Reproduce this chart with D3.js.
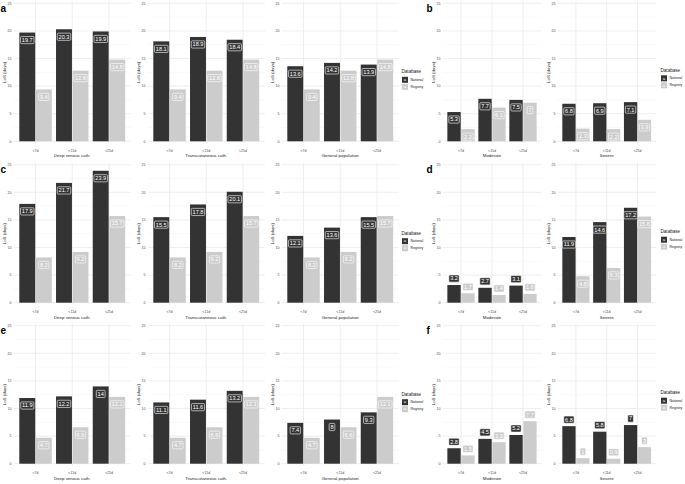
<!DOCTYPE html>
<html>
<head>
<meta charset="utf-8">
<script src="https://cdn.jsdelivr.net/npm/d3@7"></script>
<style>
  body { margin: 0; background: #fff; }
  svg { display: block; font-family: "Liberation Sans", Arial, sans-serif; }
</style>
</head>
<body>
<svg id="chart" width="685" height="484"></svg>
<script>
'use strict';

// Catégories et séries
const ageCats = ["<7d", "<11d", "<25d"];
const seriesNames = ["National", "Registry"];
const catheterFacets = ["Deep venous cath.", "Transcutaneous cath.", "General population"];
const severityFacets = ["Moderate", "Severe"];

// Panneau a
const aNational = [[19.7, 20.3, 19.9], [18.1, 18.9, 18.4], [13.6, 14.2, 13.9]];
const aRegistry = [9.4, 12.8, 14.8];
// Panneau b
const bNational = [[5.3, 7.7, 7.5], [6.8, 6.9, 7.1]];
const bRegistry = [[2.2, 6.1, 7], [2.3, 2.2, 3.9]];
// Panneau c
const cNational = [[17.9, 21.7, 23.9], [15.5, 17.8, 20.1], [12.1, 13.6, 15.5]];
const cRegistry = [8.2, 9.2, 15.7];
// Panneau d
const dNational = [[3.2, 2.7, 3.1], [11.9, 14.6, 17.2]];
const dRegistry = [[1.7, 1.4, 1.6], [4.8, 6.3, 15.6]];
// Panneau e
const eNational = [[11.9, 12.2, 14], [11.1, 11.6, 13.2], [7.4, 8, 9.3]];
const eRegistry = [4.7, 6.6, 12.1];
// Panneau f
const fNational = [[2.8, 4.5, 5.2], [6.8, 5.8, 7]];
const fRegistry = [[1.5, 3.9, 7.7], [1, 0.9, 3]];

const yTicks = [0, 5, 10, 15, 20, 25];
const panelLetters = ["a", "b", "c", "d", "e", "f"];

const couleurs = d3.scaleOrdinal().domain(seriesNames).range(["#333333", "#cccccc"]);
const svg = d3.select("#chart");

const rowTops = [3.3, 164.7, 325.7];
const hauteurPlot = 138;

/**
 * Dessiner un graphique (une facette) avec ses barres et étiquettes
 */
function dessinerPlot(x0, x1, top, titre, national, registry, placeLabel) {
    const g = svg.append("g");
    const x = d3.scalePoint().domain(ageCats).range([x0, x1]).padding(0.6);
    const y = d3.scaleLinear().domain([0, 25]).range([top + hauteurPlot, top]);
    const step = x.step();
    const bw = step * 0.45;

    // grille mineure
    d3.range(2.5, 25, 5).forEach(v => {
        g.append("line").attr("x1", x0).attr("x2", x1)
            .attr("y1", y(v)).attr("y2", y(v))
            .attr("stroke", "#f3f3f3").attr("stroke-width", 0.5);
    });
    // grille majeure
    yTicks.forEach(v => {
        g.append("line").attr("x1", x0).attr("x2", x1)
            .attr("y1", y(v)).attr("y2", y(v))
            .attr("stroke", "#e8e8e8").attr("stroke-width", 0.7);
    });
    ageCats.forEach(c => {
        g.append("line").attr("x1", x(c)).attr("x2", x(c))
            .attr("y1", y(-0.3)).attr("y2", y(25.4))
            .attr("stroke", "#e8e8e8").attr("stroke-width", 0.7);
    });

    // ticks y
    g.selectAll(".ty").data(yTicks).join("text")
        .attr("x", x0 - 2).attr("y", d => y(d) + 1.2)
        .attr("text-anchor", "end").attr("font-size", 3.6).attr("fill", "#4d4d4d")
        .text(d => d);
    // ticks x
    g.selectAll(".tx").data(ageCats).join("text")
        .attr("x", d => x(d)).attr("y", top + hauteurPlot + 10.5)
        .attr("text-anchor", "middle").attr("font-size", 3.6).attr("fill", "#4d4d4d")
        .text(d => d);
    // titres des axes
    g.append("text").attr("x", (x0 + x1) / 2).attr("y", top + hauteurPlot + 16)
        .attr("text-anchor", "middle").attr("font-size", 4.4).attr("fill", "#222")
        .text(titre);
    g.append("text")
        .attr("transform", `translate(${x0 - 7.5},${top + hauteurPlot / 2}) rotate(-90)`)
        .attr("text-anchor", "middle").attr("font-size", 4.4).attr("fill", "#222")
        .text("LoS (days)");

    const donnees = [];
    ageCats.forEach((c, i) => {
        donnees.push({ cat: c, serie: "National", val: national[i], dx: -bw });
        donnees.push({ cat: c, serie: "Registry", val: registry[i], dx: 0 });
    });

    g.selectAll(".bar").data(donnees).join("rect")
        .attr("x", d => x(d.cat) + d.dx + 0.3)
        .attr("width", bw - 0.6)
        .attr("y", d => y(d.val))
        .attr("height", d => y(0) - y(d.val))
        .attr("fill", d => couleurs(d.serie));

    // étiquettes (geom_label)
    const lab = g.selectAll(".lab").data(donnees).join("g")
        .attr("transform", d => {
            const cy = placeLabel === "above" ? y(d.val) - 6.5 : y(d.val) + 7.5;
            return `translate(${x(d.cat) + d.dx + bw / 2},${cy})`;
        });
    lab.append("text")
        .attr("text-anchor", "middle").attr("y", 1.9)
        .attr("font-size", 5.6).attr("fill", "#fff")
        .text(d => d.val);
    lab.each(function (d) {
        const t = d3.select(this).select("text").node().getBBox();
        d3.select(this).insert("rect", "text")
            .attr("x", t.x - 1.3).attr("y", -3.6)
            .attr("width", t.width + 2.6).attr("height", 7.2)
            .attr("rx", 1).attr("fill", couleurs(d.serie))
            .attr("stroke", "#fff").attr("stroke-width", 0.6);
    });
}

/**
 * Dessiner la légende "Database"
 */
function dessinerLegende(x0, top) {
    const g = svg.append("g").attr("transform", `translate(${x0},${top})`);
    g.append("text").attr("x", 0).attr("y", 0).attr("font-size", 4.6).attr("fill", "#222").text("Database");
    seriesNames.forEach((s, i) => {
        const ky = 3.5 + i * 7;
        g.append("rect").attr("x", 0.5).attr("y", ky).attr("width", 6).attr("height", 6)
            .attr("fill", couleurs(s));
        g.append("text").attr("x", 3.5).attr("y", ky + 4.3).attr("text-anchor", "middle")
            .attr("font-size", 4.2).attr("fill", "#fff").text("a");
        g.append("text").attr("x", 9).attr("y", ky + 4.2).attr("font-size", 3.5).attr("fill", "#222").text(s);
    });
}

const gauche = [
    { nat: aNational, reg: aRegistry },
    { nat: cNational, reg: cRegistry },
    { nat: eNational, reg: eRegistry }
];
const droite = [
    { nat: bNational, reg: bRegistry, place: ["below", "below"] },
    { nat: dNational, reg: dRegistry, place: ["above", "below"] },
    { nat: fNational, reg: fRegistry, place: ["above", "above"] }
];
const droiteX = [[442.4, 541.6], [557.4, 656]];

rowTops.forEach((top, r) => {
    catheterFacets.forEach((f, i) => {
        dessinerPlot(13.5 + 134 * i, 131 + 134 * i, top, f, gauche[r].nat[i], gauche[r].reg, "below");
    });
    dessinerLegende(401.5, top + 70);
    severityFacets.forEach((f, i) => {
        dessinerPlot(droiteX[i][0], droiteX[i][1], top, f, droite[r].nat[i], droite[r].reg[i], droite[r].place[i]);
    });
    dessinerLegende(660.5, top + 68.5);

    svg.append("text").attr("x", 0.5).attr("y", top + 8.5)
        .attr("font-size", 10).attr("font-weight", "bold").text(panelLetters[r * 2]);
    svg.append("text").attr("x", 426.5).attr("y", top + 8.5)
        .attr("font-size", 10).attr("font-weight", "bold").text(panelLetters[r * 2 + 1]);
});
</script>
</body>
</html>
